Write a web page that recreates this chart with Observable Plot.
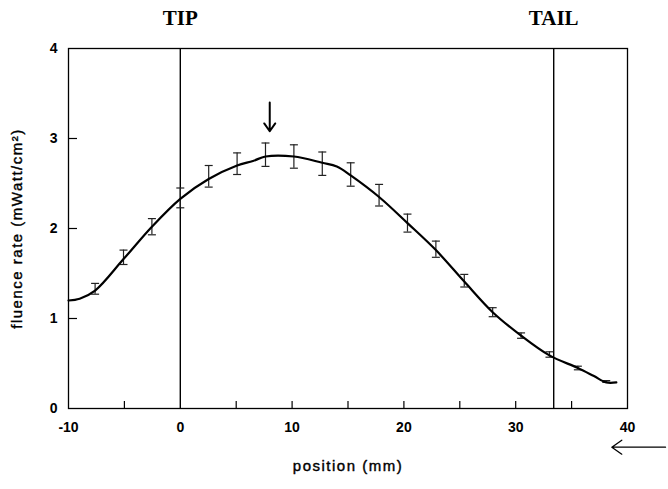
<!DOCTYPE html>
<html><head><meta charset="utf-8">
<script src="https://cdn.jsdelivr.net/npm/d3@7"></script>
<script src="https://cdn.jsdelivr.net/npm/@observablehq/plot@0.6"></script>
<style>
body{margin:0;background:#fff} #chart svg{display:block}
</style>
</head><body><div id="chart"></div>
<script>
// measured points (mm) with mean fluence rate and error
const positions = [-7.62, -5.08, -2.54, 0, 2.54, 5.08, 7.62, 10.16, 12.7, 15.24, 17.78, 20.32, 22.86, 25.4, 27.94, 30.48, 33.02, 35.56, 38.1];
const means     = [1.33, 1.68, 2.02, 2.34, 2.58, 2.72, 2.82, 2.80, 2.72, 2.60, 2.37, 2.06, 1.77, 1.42, 1.07, 0.81, 0.60, 0.45, 0.30];
const errors    = [0.06, 0.08, 0.09, 0.11, 0.12, 0.12, 0.13, 0.13, 0.13, 0.13, 0.12, 0.10, 0.09, 0.07, 0.05, 0.03, 0.03, 0.02, 0.01];
// smooth curve
const curveX = [-10, -9, -7.62, -5.08, -2.54, 0, 2.54, 5.08, 6.5, 7.62, 10.16, 12.7, 14, 15.24, 17.78, 20.32, 22.86, 25.4, 27.94, 30.48, 33.02, 35.56, 37, 38.1, 39];
const curveY = [1.20, 1.22, 1.31, 1.66, 2.02, 2.33, 2.55, 2.70, 2.75, 2.80, 2.80, 2.73, 2.69, 2.59, 2.35, 2.06, 1.76, 1.41, 1.07, 0.81, 0.59, 0.45, 0.36, 0.29, 0.29];
// annotations
const markerPositions = [0, 33.4];
const markerLabels = ["TIP", "TAIL"];
const peakArrow = [{x: 8, y1: 3.40, y2: 3.08}];
const directionArrow = [{x1: 43.4, x2: 38.6, y: -0.43}];
// ticks and axis titles
const xTicks = [-10, 0, 10, 20, 30, 40];
const xInnerTicks = [-5, 5, 10, 15, 20, 25, 30, 35];
const yTicks = [0, 1, 2, 3, 4];
const yInnerTicks = [1, 2, 3];
const xTitle = "position (mm)";
const yTitle = "fluence rate (mWatt/cm²)";

const points = positions.map((p, i) => ({x: p, y: means[i], lo: means[i] - errors[i], hi: means[i] + errors[i]}));
const curve = curveX.map((x, i) => ({x, y: curveY[i]}));
const markers = markerPositions.map((x, i) => ({x, label: markerLabels[i]}));

const capSymbol = {
  draw(ctx, size) {
    const r = Math.sqrt(size / Math.PI);
    ctx.moveTo(-r, 0);
    ctx.lineTo(r, 0);
  }
};

const chart = Plot.plot({
  width: 668,
  height: 489,
  marginLeft: 68,
  marginRight: 41,
  marginTop: 48,
  marginBottom: 81,
  style: {fontFamily: "'Liberation Sans', Arial, sans-serif", background: "#fff", color: "#000"},
  x: {domain: [-10, 40]},
  y: {domain: [0, 4]},
  marks: [
    Plot.frame({stroke: "#000", strokeWidth: 1.3}),
    Plot.axisX({ticks: xTicks, tickSize: 0, tickPadding: 14, fontSize: 14, fontWeight: "bold", label: null,
      tickFormat: d => d < 0 ? "-" + Math.abs(d) : String(d)}),
    Plot.axisY({ticks: yTicks, tickSize: 0, tickPadding: 11, fontSize: 14, fontWeight: "bold", label: null,
      tickFormat: d => String(d)}),
    Plot.text([xTitle], {text: d => d, frameAnchor: "bottom", textAnchor: "middle", dy: 62, fontSize: 15, fill: "#000", stroke: "#000", strokeWidth: 0.4}),
    Plot.text([yTitle], {text: d => d, frameAnchor: "left", textAnchor: "middle", rotate: -90, dx: -51, fontSize: 15, fill: "#000", stroke: "#000", strokeWidth: 0.4}),
    Plot.tickX(xInnerTicks, {x: d => d, insetTop: 353, stroke: "#000", strokeWidth: 1.2}),
    Plot.tickY(yInnerTicks, {y: d => d, insetRight: 550, stroke: "#000", strokeWidth: 1.2}),
    Plot.ruleX(markers, {x: "x", y1: 0, y2: 4, stroke: "#000", strokeWidth: 1.4}),
    Plot.text(markers, {x: "x", y: 4, dy: -30, text: "label", fontFamily: "'Liberation Serif', 'Times New Roman', serif", fontWeight: "bold", fontSize: 21}),
    Plot.ruleX(points, {x: "x", y1: "lo", y2: "hi", stroke: "#222", strokeWidth: 1.2}),
    Plot.dot(points, {x: "x", y: "hi", symbol: capSymbol, r: 4, stroke: "#222", strokeWidth: 1.2, fill: "none"}),
    Plot.dot(points, {x: "x", y: "lo", symbol: capSymbol, r: 4, stroke: "#222", strokeWidth: 1.2, fill: "none"}),
    Plot.line(curve, {x: "x", y: "y", curve: "catmull-rom", stroke: "#000", strokeWidth: 2.2}),
    Plot.arrow(peakArrow, {x1: "x", x2: "x", y1: "y1", y2: "y2", stroke: "#000", strokeWidth: 2, headLength: 12, headAngle: 70}),
    Plot.arrow(directionArrow, {x1: "x1", x2: "x2", y1: "y", y2: "y", stroke: "#000", strokeWidth: 1.3, headLength: 14, headAngle: 70})
  ]
});
d3.select(chart).selectAll("text")
  .filter(function() { return this.textContent === xTitle || this.textContent === yTitle; })
  .attr("letter-spacing", "1.5px");
document.getElementById("chart").appendChild(chart);
</script>
</body></html>
